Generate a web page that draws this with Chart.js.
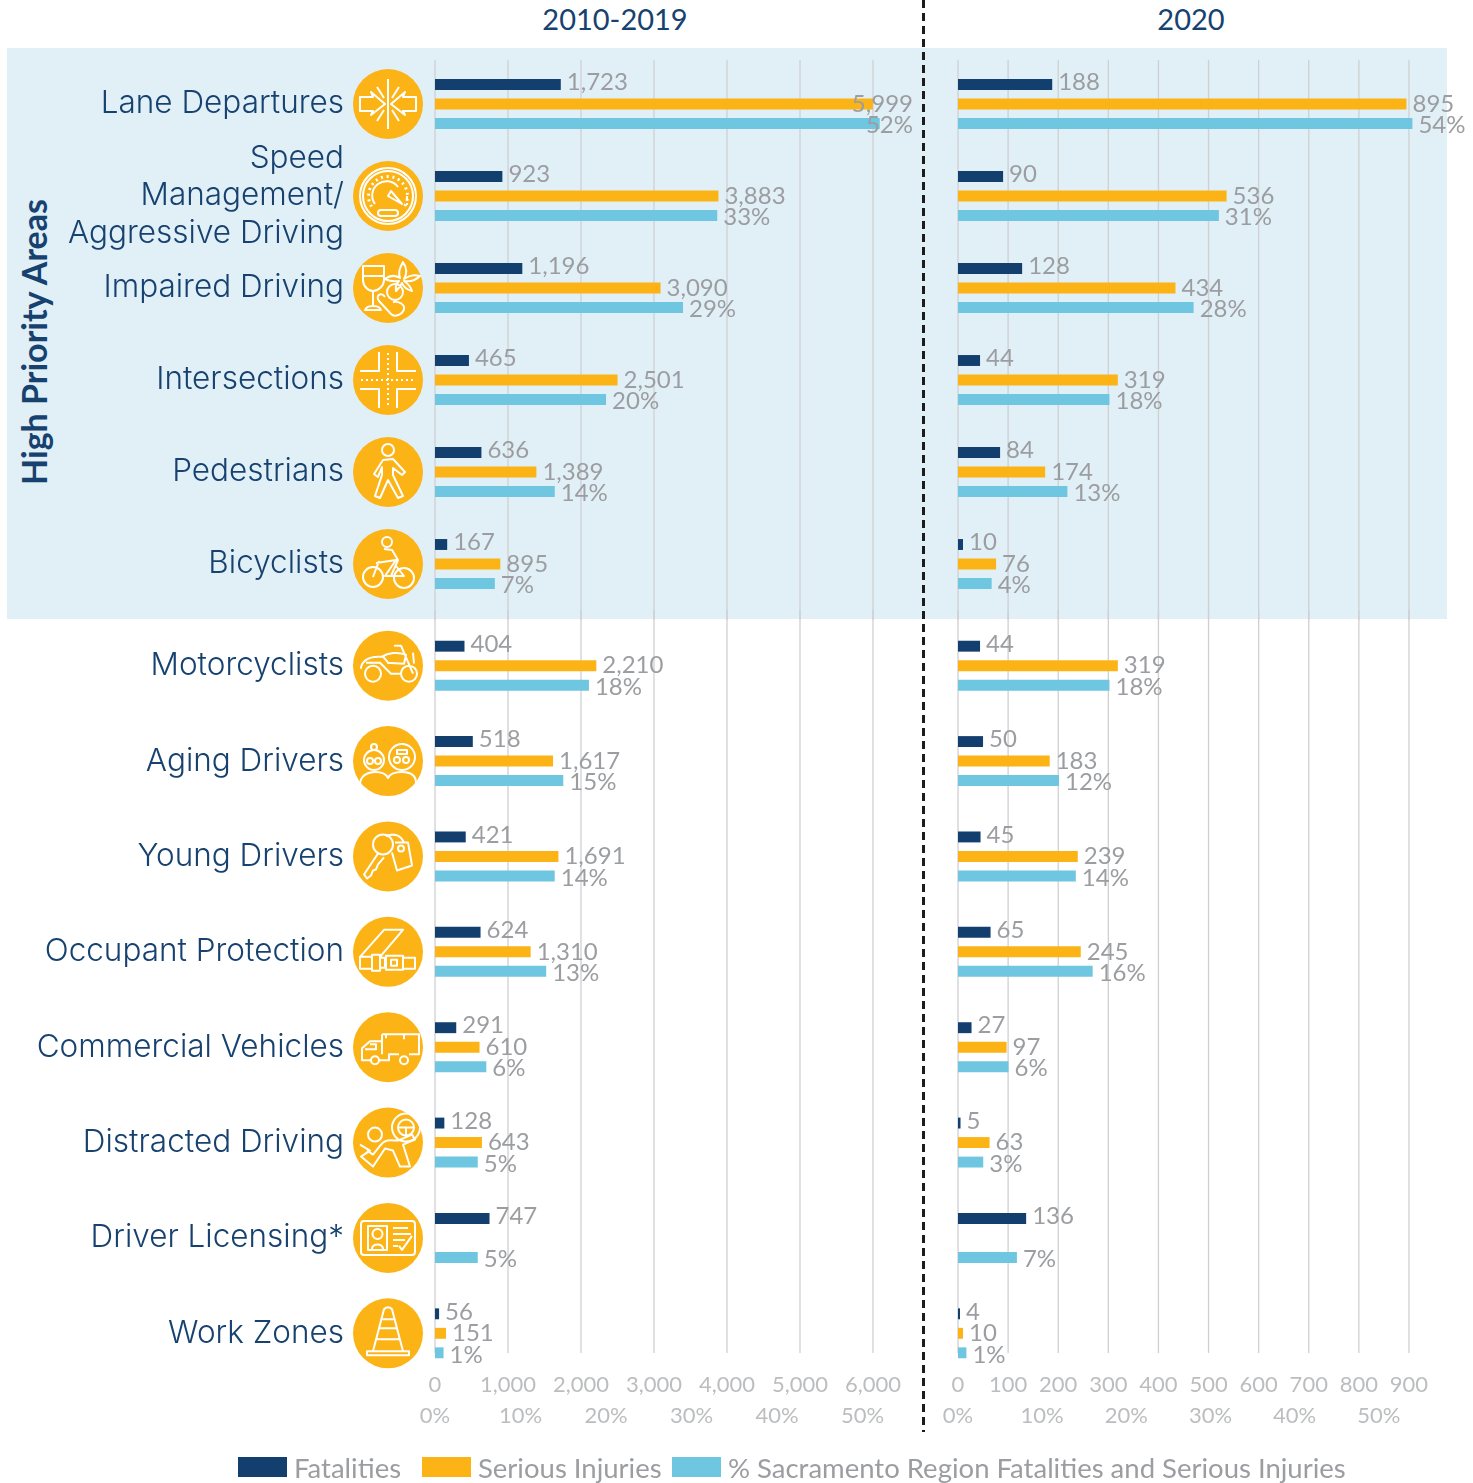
<!DOCTYPE html>
<html>
<head>
<meta charset="utf-8">
<title>Sacramento Region emphasis areas</title>
<script src="https://cdn.jsdelivr.net/npm/chart.js@4"></script>
<style>
    html, body { margin: 0; padding: 0; background: #fff; }
    body { position: relative; width: 1473px; height: 1483px; overflow: hidden; font-family: Lato, sans-serif; }
    canvas { position: absolute; }
    #highBand { position: absolute; left: 7px; top: 48px; width: 1440px; height: 571px; background: #e1eff7; }
    #divider { position: absolute; left: 922px; top: 0; width: 3px; height: 1432px;
        background: repeating-linear-gradient(to bottom, #1c1c1c 0 8px, transparent 8px 13px); z-index: 3; }
    .panelTitle { position: absolute; top: 0; font-size: 29px; line-height: 38px; color: #17426f; transform: translateX(-50%); }
    #sideTitle { position: absolute; left: 33px; top: 342px; font-size: 34px; font-weight: 700; color: #17426f;
        transform: translate(-50%, -50%) rotate(-90deg); white-space: nowrap; }
    .legendItem { position: absolute; top: 1450px; height: 34px; display: flex; align-items: center; font-size: 27.5px; color: #9b9da0; white-space: nowrap; }
    .legendItem i { display: block; width: 49px; height: 20px; margin-right: 7px; }
</style>
</head>
<body>
<div id="highBand"></div>
<div class="panelTitle" style="left:615px">2010-2019</div>
<div class="panelTitle" style="left:1191px">2020</div>
<div id="sideTitle">High Priority Areas</div>
<canvas id="highLeft" width="918" height="572" style="left:0;top:48px"></canvas>
<canvas id="highRight" width="543" height="572" style="left:930px;top:48px"></canvas>
<canvas id="lowLeft" width="918" height="873" style="left:0;top:610px"></canvas>
<canvas id="lowRight" width="543" height="873" style="left:930px;top:610px"></canvas>
<div id="divider"></div>
<script>
const categories = [
    "Lane Departures", ["Speed", "Management/", "Aggressive Driving"], "Impaired Driving", "Intersections",
    "Pedestrians", "Bicyclists", "Motorcyclists", "Aging Drivers", "Young Drivers", "Occupant Protection",
    "Commercial Vehicles", "Distracted Driving", "Driver Licensing*", "Work Zones"
];
const seriesNames = ["Fatalities", "Serious Injuries", "% Sacramento Region Fatalities and Serious Injuries"];

// 2010-2019
const decadeFatalities = [1723, 923, 1196, 465, 636, 167, 404, 518, 421, 624, 291, 128, 747, 56];
const decadeInjuries = [5999, 3883, 3090, 2501, 1389, 895, 2210, 1617, 1691, 1310, 610, 643, null, 151];
const decadeShares = [52, 33, 29, 20, 14, 7, 18, 15, 14, 13, 6, 5, 5, 1];
const decadeTicks = [0, 1000, 2000, 3000, 4000, 5000, 6000];

// 2020
const yearFatalities = [188, 90, 128, 44, 84, 10, 44, 50, 45, 65, 27, 5, 136, 4];
const yearInjuries = [895, 536, 434, 319, 174, 76, 319, 183, 239, 245, 97, 63, null, 10];
const yearShares = [54, 31, 28, 18, 13, 4, 18, 12, 14, 16, 6, 3, 7, 1];
const yearTicks = [0, 100, 200, 300, 400, 500, 600, 700, 800, 900];

const shareTicks = [0, 10, 20, 30, 40, 50];

const HIGH_ROWS = 6;
const colors = ["#133f6f", "#fcb316", "#6fc6e0"];
const navy = "#17426f";
const fontName = "Lato, sans-serif";

// Icon outlines, drawn in a 70x70 box around the circle centre
function circ(cx, cy, r) {
    return `M${cx - r} ${cy}a${r} ${r} 0 1 0 ${2 * r} 0a${r} ${r} 0 1 0 ${-2 * r} 0`;
}
function dots() {
    let d = "";
    for (let i = -27; i <= 27; i += 5) {
        d += `M${i} 0h2M0 ${i}v2`;
    }
    return d;
}
function gaugeTicks() {
    let d = "";
    for (let a = 150; a <= 390; a += 17) {
        const c = Math.cos(a * Math.PI / 180), s = Math.sin(a * Math.PI / 180);
        d += `M${(18 * c).toFixed(1)} ${(18 * s).toFixed(1)}L${(21 * c).toFixed(1)} ${(21 * s).toFixed(1)}`;
    }
    return d;
}
const icons = [
    "M-28-7H-15L-17-12L-3 0L-17 11L-15 7H-28ZM28-7H15L17-12L3 0L17 11L15 7H28ZM0-25V25M-11-17L-4-6M11-17L4-6M-11 17L-4 6M11 17L4 6",
    circ(0, 0, 28) + circ(0, 0, 25) + gaugeTicks() + "M-13 8A14 14 0 0 1 10-9M0 0L14 8L3-5ZM-7 14H7A3 3 0 0 1 7 20H-7A3 3 0 0 1-7 14ZM19 0V5M19 7V9",
    "M-25-22H-4V-8C-4-2-10 3-15 3C-20 3-25-2-25-8ZM-25-12H-4M-15 3V19M-23 22H-7C-8 19-12 18-15 18C-18 18-22 19-23 22ZM15-26C19-20 19-14 16-9C24-14 28-13 32-12C28-8 23-6 16-7C22-3 23 0 24 3C20 2 16 0 14-5C12-1 10 1 8 3C7-1 8-4 11-7C5-6 1-7-3-9C2-13 7-13 12-10C10-15 12-21 15-26Z" + circ(7, 4, 8) + "M-3 9C-7 3 -13 8 -9 13L3 26C7 30 15 26 16 21C17 16 10 13 5 14",
    "M-28-9H-9V-28M28-9H9V-28M-28 9H-9V28M28 9H9V28" + dots(),
    circ(0, -22, 6) + "M-5-12L5-13L17 0L14 3L5-4L5 3L15 24L10 26L0 8L-8 26L-13 24L-6 3L-6-5L-10 5L-14 2Z",
    circ(-15, 13, 10) + circ(16, 14, 10) + circ(-1, -22, 5) + "M-4-15L4-14L10-4L3 12M-12-1L8-4L-3 12H16L8 2M-15 13L-9-3",
    circ(-15, 8, 8) + circ(21, 8, 8) + "M-27 3C-27-4-20-9-10-9H-5L1-2M-22-3H-8L3 8H13M-6-9C0-13 10-14 18-11L16-2L-1-3M6-20H13L25 8M25-13L26-2",
    circ(-14, -1, 10) + circ(-14, -14, 3) + circ(-18, 0, 3) + circ(-10, 0, 3) + circ(14, -4, 13) + circ(9, -1, 3) + circ(18, -1, 3) + "M9-11H19V-7H9ZM-28 24C-28 14-20 11-13 11C-7 11-2 12 0 17C2 12 8 11 14 11C22 11 28 14 28 22",
    circ(-5, -12, 10) + "M-10-3L-24 18L-21 22L-17 19L-15 14L-12 13L-10 8L-4 1M4-4L9 14L24 9L20-14L7-14M-2-20C4-23 12-23 16-14" + circ(13, -8, 3),
    "M-28 5L-4-22H15L-8 5M-28 5V17H-16V5ZM-16 3H-8V19H-16ZM-8 6H-3V16H-8ZM-2 4H15V18H-2ZM3 8H9V14H3ZM15 6H27V17H15Z",
    circ(-13, 13, 4) + circ(16, 13, 4) + "M-6-13H31V7H21M11 7H1V13H-9M-6 7V-13M-6-6H-18L-26 1V13H-17M-23 2H-12V-3H-18M-2-13V-9M16-13V-8",
    circ(18, -15, 14) + circ(18, -15, 8) + circ(-13, -8, 7) + "M-28 2L-18 8L-27 14L-15 24L-3 6L5 8L12 24H22L15 2L27-3L24-8L10-2C4-2-2-4-7 2L-15 12L-21 8M18-15V-7M10-15H26",
    "M-24-17H24Q27-17 27-14V14Q27 17 24 17H-24Q-27 17-27 14V-14Q-27-17-24-17ZM-20-12H-1V12H-20ZM-5 11C-5 5-16 5-16 11" + circ(-10.5, -4, 5) + "M5-10H20M5-4H23M5 2H17M5 8H10M11 8L14 12L24-2",
    "M-21 22H21V18H-21ZM-15 18L-4-24Q0-28 4-24L15 18M-7-14H7M-9-5H9M-12 6H12"
];
const iconPaths = icons.map(d => new Path2D(d));

// Circle and outline beside each row of the left panels
const iconPlugin = {
    id: "rowIcons",
    afterDraw(chart, args, opts) {
        if (opts.first === null) return;
        const ctx = chart.ctx, y = chart.scales.y;
        y.ticks.forEach((tick, i) => {
            ctx.save();
            ctx.translate(388, y.getPixelForValue(i));
            ctx.fillStyle = colors[1];
            ctx.beginPath();
            ctx.arc(0, 0, 35, 0, Math.PI * 2);
            ctx.fill();
            ctx.strokeStyle = "#fff";
            ctx.lineWidth = 2;
            ctx.lineJoin = "round";
            ctx.stroke(iconPaths[opts.first + i]);
            ctx.restore();
        });
    }
};

// Value gridlines stop short of the axis labels, so they are drawn from the scale's ticks
const gridPlugin = {
    id: "countGrid",
    afterLayout(chart) {
        // the count labels sit slightly inside the last row, and a scale clips its labels at its top
        chart.scales.x.top -= 12;
    },
    beforeDatasetsDraw(chart, args, opts) {
        const ctx = chart.ctx, x = chart.scales.x;
        ctx.save();
        ctx.strokeStyle = "#cfd0d2";
        ctx.lineWidth = 1.3;
        x.ticks.forEach(tick => {
            const px = x.getPixelForValue(tick.value);
            ctx.beginPath();
            ctx.moveTo(px, opts.top);
            ctx.lineTo(px, opts.bottom);
            ctx.stroke();
        });
        ctx.restore();
    }
};

const labelPlugin = {
    id: "barValues",
    afterDatasetsDraw(chart, args, opts) {
        const ctx = chart.ctx;
        ctx.save();
        ctx.font = `24px ${fontName}`;
        ctx.fillStyle = "#9b9da0";
        ctx.textBaseline = "middle";
        chart.data.datasets.forEach((ds, i) => {
            chart.getDatasetMeta(i).data.forEach((bar, j) => {
                const value = ds.data[j];
                if (value === null) return;
                const text = i === 2 ? value + "%" : value.toLocaleString("en-US");
                const width = ctx.measureText(text).width;
                ctx.fillText(text, Math.min(bar.x + 6, opts.limit - width), bar.y + (i - 1) * 2);
            });
        });
        ctx.restore();
    }
};

function bottomAxis(cfg, max, weight, height, padding, values, format) {
    return {
        min: 0,
        max: max,
        position: "bottom",
        weight: weight,
        display: cfg.showAxes,
        afterBuildTicks: scale => { scale.ticks = values.map(value => ({ value: value })); },
        afterFit: scale => {
            scale.height = cfg.showAxes ? height : 0;
            scale.paddingLeft = scale.paddingRight = 0;
        },
        border: { display: false },
        grid: { display: false, drawTicks: false },
        ticks: {
            autoSkip: false,
            maxRotation: 0,
            padding: padding,
            color: "#bcbdbf",
            font: { family: fontName, size: 22 },
            callback: format
        }
    };
}

function makeChart(id, cfg) {
    return new Chart(document.getElementById(id), {
        type: "bar",
        data: {
            labels: cfg.labels,
            datasets: cfg.values.map((data, i) => ({
                label: seriesNames[i],
                data: data,
                xAxisID: i === 2 ? "xShare" : "x",
                backgroundColor: colors[i],
                categoryPercentage: 58.5 / cfg.rowHeight,
                barPercentage: 0.56
            }))
        },
        options: {
            indexAxis: "y",
            responsive: false,
            animation: false,
            events: [],
            layout: { padding: cfg.padding },
            plugins: {
                legend: { display: false },
                tooltip: { enabled: false },
                rowIcons: { first: cfg.firstIcon },
                countGrid: { top: cfg.gridTop, bottom: cfg.gridBottom },
                barValues: { limit: cfg.labelLimit }
            },
            scales: {
                x: bottomAxis(cfg, cfg.countMax, 0, 20, 3, cfg.countTicks, v => v.toLocaleString("en-US")),
                xShare: bottomAxis(cfg, cfg.shareMax, 1, 40, 2, shareTicks, v => v + "%"),
                y: {
                    afterFit: scale => {
                        scale.width = cfg.axisWidth;
                        scale.paddingTop = scale.paddingBottom = 0;
                    },
                    border: { display: false },
                    grid: { display: false, drawTicks: false },
                    ticks: {
                        display: cfg.showNames,
                        autoSkip: false,
                        padding: 91,
                        color: navy,
                        font: { family: "Inter, sans-serif", size: 31.5, weight: 300, lineHeight: 1.2 }
                    }
                }
            }
        },
        plugins: [gridPlugin, labelPlugin, iconPlugin]
    });
}

const panels = {
    left: { values: [decadeFatalities, decadeInjuries, decadeShares], countTicks: decadeTicks, countMax: 6233, shareMax: 53.2,
        axisWidth: 435, right: 28, showNames: true, labelLimit: 913 },
    right: { values: [yearFatalities, yearInjuries, yearShares], countTicks: yearTicks, countMax: 922, shareMax: 54.9,
        axisWidth: 28, right: 53, showNames: false, labelLimit: 543 }
};

function drawPanel(side, panel) {
    const pick = (from, to) => panel.values.map(v => v.slice(from, to));
    makeChart("high" + side, Object.assign({}, panel, {
        labels: categories.slice(0, HIGH_ROWS),
        values: pick(0, HIGH_ROWS),
        rowHeight: 92,
        padding: { top: 10, bottom: 10, right: panel.right },
        showAxes: false,
        gridTop: 12,
        gridBottom: 572,
        firstIcon: panel.showNames ? 0 : null
    }));
    makeChart("low" + side, Object.assign({}, panel, {
        labels: categories.slice(HIGH_ROWS),
        values: pick(HIGH_ROWS),
        rowHeight: 95.4,
        padding: { top: 8, bottom: 42, right: panel.right },
        showAxes: true,
        gridTop: 0,
        gridBottom: 743,
        firstIcon: panel.showNames ? HIGH_ROWS : null
    }));
}
drawPanel("Left", panels.left);
drawPanel("Right", panels.right);

// Legend
const legendLefts = [238, 422, 672];
seriesNames.forEach((name, i) => {
    const item = document.createElement("div");
    item.className = "legendItem";
    item.style.left = legendLefts[i] + "px";
    const swatch = document.createElement("i");
    swatch.style.background = colors[i];
    item.appendChild(swatch);
    item.appendChild(document.createTextNode(name));
    document.body.appendChild(item);
});
</script>
</body>
</html>
